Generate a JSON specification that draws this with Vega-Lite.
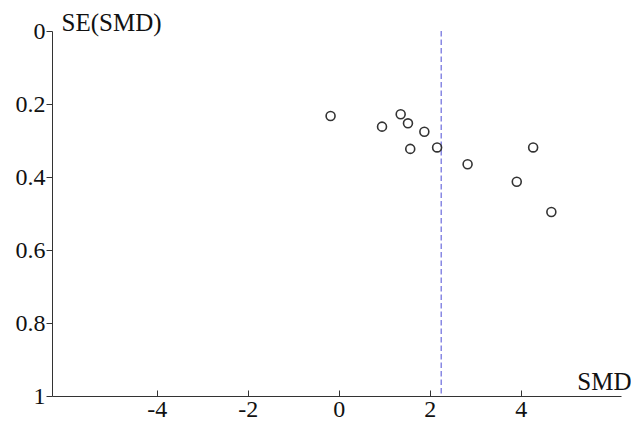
{
  "$schema": "https://vega.github.io/schema/vega-lite/v6.json",
  "width": 569,
  "height": 365,
  "autosize": "none",
  "padding": {"left": 52, "top": 31, "right": 10, "bottom": 27},
  "background": "white",
  "config": {
    "view": {"stroke": null},
    "font": "Liberation Serif",
    "axis": {
      "grid": false,
      "domainColor": "#333333",
      "tickColor": "#333333",
      "labelColor": "#111111",
      "titleColor": "#111111",
      "labelFont": "Liberation Serif",
      "titleFont": "Liberation Serif",
      "labelFontSize": 24,
      "titleFontSize": 25,
      "titleFontWeight": "normal"
    }
  },
  "layer": [
    {
      "data": {"values": [{"smd": 2.25}]},
      "mark": {"type": "rule", "color": "#6b6bdc", "strokeWidth": 1.2, "strokeDash": [5.5, 3]},
      "encoding": {
        "x": {"field": "smd", "type": "quantitative", "scale": {"domain": [-6.3, 6.2], "nice": false, "zero": false}}
      }
    },
    {
      "data": {
        "values": [
          {"smd": -0.18, "se": 0.233},
          {"smd": 0.95, "se": 0.262},
          {"smd": 1.36, "se": 0.228},
          {"smd": 1.52, "se": 0.253},
          {"smd": 1.88, "se": 0.276},
          {"smd": 1.57, "se": 0.323},
          {"smd": 2.16, "se": 0.319},
          {"smd": 2.83, "se": 0.365},
          {"smd": 4.27, "se": 0.319},
          {"smd": 3.91, "se": 0.413},
          {"smd": 4.67, "se": 0.496}
        ]
      },
      "mark": {"type": "point", "filled": false, "stroke": "#333333", "strokeWidth": 1.6, "size": 80, "opacity": 1},
      "encoding": {
        "x": {
          "field": "smd", "type": "quantitative",
          "scale": {"domain": [-6.3, 6.2], "nice": false, "zero": false},
          "axis": {
            "title": "SMD",
            "values": [-4, -2, 0, 2, 4],
            "labelExpr": "'' + datum.value",
            "tickSize": -6,
            "labelPadding": 7,
            "titleAnchor": null,
            "titleAlign": "right",
            "titleBaseline": "alphabetic",
            "titleX": 579,
            "titleY": -7,
            "titleAngle": 0
          }
        },
        "y": {
          "field": "se", "type": "quantitative",
          "scale": {"domain": [0, 1], "reverse": true, "nice": false, "zero": false},
          "axis": {
            "title": "SE(SMD)",
            "values": [0, 0.2, 0.4, 0.6, 0.8, 1],
            "labelExpr": "'' + datum.value",
            "tickSize": 6,
            "labelPadding": 1,
            "titleAngle": 0,
            "titleAlign": "left",
            "titleBaseline": "alphabetic",
            "titleAnchor": null,
            "titleX": 9,
            "titleY": -1
          }
        }
      }
    }
  ]
}
